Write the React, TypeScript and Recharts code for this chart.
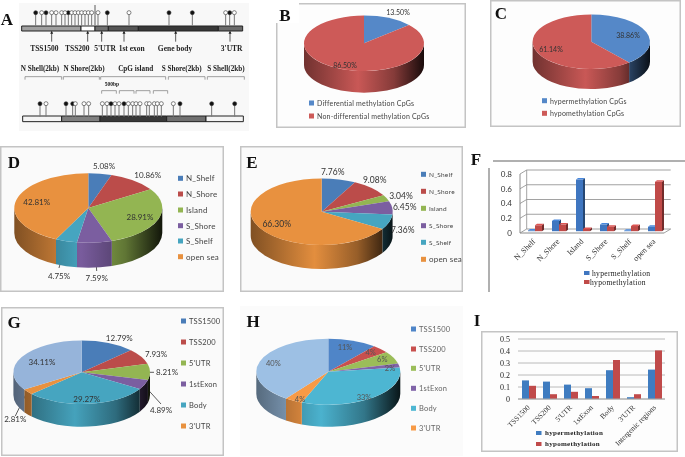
import {
  PieChart, Pie, BarChart, Bar, XAxis, YAxis, CartesianGrid,
  ScatterChart, Scatter, ReferenceArea, ReferenceLine,
} from "recharts";

// panel A: lollipop tracks, all positions in 1/3 px units along the window
const geneFilled = [107, 138, 205, 322, 507, 577, 689];
const geneOpen = [125, 155, 168, 185, 195, 215, 225, 235, 245, 255, 265, 275, 294, 387, 677, 703];
const islandFilled = [120, 198, 218, 333, 372, 540, 635, 704];
const islandOpen = [138, 226, 252, 266, 307, 321, 345, 357, 385, 398, 408, 420, 440, 448, 463, 472, 484, 520];
const geneRegions = ["TSS1500", "TSS200", "5'UTR", "1st exon", "Gene body", "3'UTR"];
const islandRegions = ["N Shell(2kb)", "N Shore(2kb)", "CpG island", "S Shore(2kb)", "S Shell(2kb)"];

const bNames = ["Differential methylation CpGs", "Non-differential methylation CpGs"];
const bValues = [13.5, 86.5];
const cNames = ["hypermethylation CpGs", "hypomethylation CpGs"];
const cValues = [38.86, 61.14];
const cpgNames = ["N_Shelf", "N_Shore", "Island", "S_Shore", "S_Shelf", "open sea"];
const dValues = [5.08, 10.86, 28.91, 7.59, 4.75, 42.81];
const eValues = [7.76, 9.08, 3.04, 6.45, 7.36, 66.3];
const geneNames = ["TSS1500", "TSS200", "5'UTR", "1stExon", "Body", "3'UTR", "Intergenic"];
const gValues = [12.79, 7.93, 8.21, 4.89, 29.27, 2.81, 34.11];
const hValues = [11, 4, 6, 2, 33, 4, 40];

const fCategories = ["N_Shelf", "N_Shore", "Island", "S_Shore", "S_Shelf", "open sea"];
const fHyper = [0.01, 0.14, 0.7, 0.09, 0.005, 0.06];
const fHypo = [0.08, 0.09, 0.03, 0.06, 0.07, 0.67];
const iCategories = ["TSS1500", "TSS200", "5'UTR", "1stExon", "Body", "3'UTR", "Intergenic regions"];
const iHyper = [0.155, 0.145, 0.12, 0.09, 0.24, 0.015, 0.245];
const iHypo = [0.11, 0.04, 0.06, 0.025, 0.325, 0.04, 0.405];

const twoColors = ["#5588c8", "#cd5a58"];
const officeColors = ["#4a7db8", "#bb4c4a", "#93b552", "#7b5ea0", "#46a5c0", "#e8913f", "#96b4da"];
const brightColors = ["#4f85c8", "#c8504e", "#9bbd59", "#8064a8", "#4db6d2", "#f79a46", "#9dc0e4"];

const SERIF = "'Liberation Serif', serif";
const SANS = "Lato, sans-serif";

function shade(hex: string, k: number) {
  const n = parseInt(hex.slice(1), 16);
  const c = (v: number) => Math.min(255, Math.round(v * k));
  return `rgb(${c(n >> 16)},${c((n >> 8) & 255)},${c(n & 255)})`;
}

function arcPoint(cx: number, cy: number, rx: number, ry: number, deg: number) {
  const a = (deg * Math.PI) / 180;
  return [cx + rx * Math.cos(a), cy - ry * Math.sin(a)];
}

function topShape(k: number) {
  return (p: any) => {
    const rx = p.outerRadius;
    const ry = rx * k;
    const [x1, y1] = arcPoint(p.cx, p.cy, rx, ry, p.startAngle);
    const [x2, y2] = arcPoint(p.cx, p.cy, rx, ry, p.endAngle);
    const large = p.startAngle - p.endAngle > 180 ? 1 : 0;
    return <path d={`M${p.cx},${p.cy}L${x1},${y1}A${rx},${ry} 0 ${large} 1 ${x2},${y2}Z`} fill={p.fill} />;
  };
}

function wallShape(k: number, depth: number, id: string) {
  return (p: any) => {
    const hi = Math.min(p.startAngle, 0);
    const lo = Math.max(p.endAngle, -180);
    if (hi <= lo) return <g />;
    const rx = p.outerRadius;
    const ry = rx * k;
    const [x1, y1] = arcPoint(p.cx, p.cy, rx, ry, hi);
    const [x2, y2] = arcPoint(p.cx, p.cy, rx, ry, lo);
    const d = `M${x1},${y1}A${rx},${ry} 0 0 1 ${x2},${y2}L${x2},${y2 + depth}A${rx},${ry} 0 0 0 ${x1},${y1 + depth}Z`;
    return <path d={d} fill={`url(#${id}${p.fill.slice(1)})`} />;
  };
}

type PieProps = {
  id: string;
  box: number[];
  names: string[];
  values: number[];
  colors: string[];
  center: number[];
  rx: number;
  ry: number;
  depth: number;
  spots: number[][];
  leaders?: number[][];
  legendX: number;
  legendY: number[];
  legendSizes?: number[];
  legendSize?: number;
  labelSize?: number;
  labelColor?: string;
  legendColor?: string;
  plain?: boolean;
};

function Pie3D(o: PieProps) {
  const [bx, by, w, h] = o.box;
  const data = o.values.map((value, i) => ({ name: o.names[i], value, fill: o.colors[i] }));
  const k = o.ry / o.rx;
  const cx = o.center[0] - bx;
  const cy = o.center[1] - by;
  const common = { data, dataKey: "value", cx, cy, outerRadius: o.rx, startAngle: 90, endAngle: -270, stroke: "none", isAnimationActive: false };
  const renderLabel = (p: any) => {
    const s = o.spots[p.index];
    const text = o.plain ? `${o.values[p.index]}%` : `${o.values[p.index].toFixed(2)}%`;
    return (
      <text x={s[0] - bx} y={s[1] - by} textAnchor="middle" dominantBaseline="central" fontFamily={SANS} fontSize={o.labelSize ?? 8} fill={o.labelColor ?? "#333"}>
        {text}
      </text>
    );
  };
  return (
    <div style={{ position: "absolute", left: bx, top: by }}>
      <PieChart width={w} height={h} margin={{ top: 0, right: 0, bottom: 0, left: 0 }}>
        <defs>
          {o.colors.map((c) => (
            <linearGradient key={c} id={`${o.id}${c.slice(1)}`} gradientUnits="userSpaceOnUse" x1={cx - o.rx} x2={cx + o.rx} y1={0} y2={0}>
              <stop offset="0" stopColor={shade(c, 0.55)} />
              <stop offset="0.45" stopColor={shade(c, 0.98)} />
              <stop offset="0.75" stopColor={shade(c, 0.65)} />
              <stop offset="1" stopColor={shade(c, 0.12)} />
            </linearGradient>
          ))}
        </defs>
        <Pie {...common} shape={wallShape(k, o.depth, o.id)} label={false} labelLine={false} />
        <Pie {...common} shape={topShape(k)} label={renderLabel} labelLine={false} />
        {(o.leaders ?? []).map((l, i) => (
          <line key={i} x1={l[0] - bx} y1={l[1] - by} x2={l[2] - bx} y2={l[3] - by} stroke="#333" strokeWidth={0.8} />
        ))}
        {o.legendY.map((y, i) => (
          <g key={i}>
            <rect x={o.legendX - bx} y={y - by - 2.5} width={5} height={5} fill={o.colors[i]} />
            <text x={o.legendX + 8 - bx} y={y - by} dominantBaseline="central" fontFamily={SANS} fontSize={o.legendSizes?.[i] ?? o.legendSize ?? 8} fill={o.legendColor ?? "#444"} letterSpacing={0.2}>
              {o.names[i]}
            </text>
          </g>
        ))}
      </PieChart>
    </div>
  );
}

function frame(left: number, top: number, width: number, height: number, bg = "#fafafa", line = "#c4c4c4") {
  return <div style={{ position: "absolute", left, top, width, height, background: bg, boxShadow: `inset 0 0 0 1.5px ${line}` }} />;
}

function letter(ch: string, x: number, y: number) {
  return (
    <div style={{ position: "absolute", left: x, top: y, transform: "translate(-50%,-50%)", fontFamily: SERIF, fontWeight: 700, fontSize: 17, lineHeight: 1, color: "#111" }}>
      {ch}
    </div>
  );
}

function lollipop(filled: boolean) {
  return (p: any) => (
    <g>
      <line x1={p.cx} x2={p.cx} y1={p.cy} y2={p.cy + 13} stroke="#777" strokeWidth={1} />
      <circle cx={p.cx} cy={p.cy} r={2} fill={filled ? "#111" : "#fff"} stroke="#333" strokeWidth={0.6} />
    </g>
  );
}

function upArrow(p: any) {
  return <path d={`M${p.cx - 1.5},${p.cy + 2}L${p.cx},${p.cy - 1}L${p.cx + 1.5},${p.cy + 2}Z`} fill="#222" />;
}

function PanelA() {
  const head = (xs: number[], y: number) => xs.map((x) => ({ x, y }));
  const geneBands = [[65, 243, "#a0a0a0"], [243, 285, "#ffffff"], [285, 325, "#707070"], [325, 415, "#555555"], [415, 655, "#383838"], [655, 728, "#6a6a6a"]];
  const islandBands = [[68, 185, "#f4f4f4"], [185, 300, "#808080"], [300, 500, "#383838"], [500, 618, "#707070"], [618, 730, "#f4f4f4"]];
  const arrowX = [155, 263, 305, 372, 527, 690];
  const brackets = [[75, 185], [190, 298], [302, 497], [505, 615], [622, 733]];
  const smallBrackets = [[305, 349], [358, 402], [408, 450], [460, 503]];
  const geneLabelX = [133, 232, 315, 395, 525, 695];
  const islandLabelX = [120, 252, 407, 545, 678];
  const label = { fontFamily: SERIF, fontWeight: 700, fill: "#222", textAnchor: "middle" as const };
  const bracket = (a: number, b: number, y: number, key: string) => [
    <ReferenceLine key={`${key}t`} segment={[{ x: a, y }, { x: b, y }]} stroke="#888" strokeWidth={0.8} />,
    <ReferenceLine key={`${key}l`} segment={[{ x: a, y }, { x: a, y: y + 9 }]} stroke="#888" strokeWidth={0.8} />,
    <ReferenceLine key={`${key}r`} segment={[{ x: b, y }, { x: b, y: y + 9 }]} stroke="#888" strokeWidth={0.8} />,
  ];
  return (
    <div style={{ position: "absolute", left: 0, top: 0 }}>
      <ScatterChart width={260} height={135} margin={{ top: 0, right: 0, bottom: 0, left: 0 }}>
        <XAxis type="number" dataKey="x" domain={[0, 780]} hide />
        <YAxis type="number" dataKey="y" domain={[0, 405]} reversed hide />
        {geneBands.map((b, i) => (
          <ReferenceArea key={i} x1={b[0] as number} x2={b[1] as number} y1={78} y2={93} fill={b[2] as string} fillOpacity={1} stroke="#222" strokeWidth={1} />
        ))}
        {islandBands.map((b, i) => (
          <ReferenceArea key={i} x1={b[0] as number} x2={b[1] as number} y1={348} y2={365} fill={b[2] as string} fillOpacity={1} stroke="#222" strokeWidth={1} />
        ))}
        {arrowX.map((x) => (
          <ReferenceLine key={x} segment={[{ x, y: 95 }, { x, y: 125 }]} stroke="#333" strokeWidth={0.8} />
        ))}
        <ReferenceLine segment={[{ x: 285, y: 15 }, { x: 285, y: 75 }]} stroke="#333" strokeWidth={0.8} />
        {brackets.map((b, i) => bracket(b[0], b[1], 230, `b${i}`))}
        {smallBrackets.map((b, i) => bracket(b[0], b[1], 272, `s${i}`))}
        <Scatter data={head(geneFilled, 38)} shape={lollipop(true)} isAnimationActive={false} />
        <Scatter data={head(geneOpen, 38)} shape={lollipop(false)} isAnimationActive={false} />
        <Scatter data={head(islandFilled, 311)} shape={lollipop(true)} isAnimationActive={false} />
        <Scatter data={head(islandOpen, 311)} shape={lollipop(false)} isAnimationActive={false} />
        <Scatter data={head(arrowX, 95)} shape={upArrow} isAnimationActive={false} />
        {geneRegions.map((t, i) => (
          <text key={t} x={geneLabelX[i] / 3} y={51} fontSize={7.5} {...label}>{t}</text>
        ))}
        {islandRegions.map((t, i) => (
          <text key={t} x={islandLabelX[i] / 3} y={71} fontSize={7.2} {...label}>{t}</text>
        ))}
        <text x={112} y={86} fontSize={5.5} {...label}>500bp</text>
      </ScatterChart>
    </div>
  );
}

function bar3D(dx: number, dy: number, lift: number) {
  return (p: any) => {
    const x = p.x + lift;
    const y = p.y - lift * 0.6;
    const { width: w, height: h, fill } = p;
    return (
      <g>
        <path d={`M${x + w},${y}l${dx},${-dy}v${h}l${-dx},${dy}Z`} fill={shade(fill, 0.6)} />
        <path d={`M${x},${y}l${dx},${-dy}h${w}l${-dx},${dy}Z`} fill={shade(fill, 1.15)} />
        <rect x={x} y={y} width={w} height={h} fill={fill} />
      </g>
    );
  };
}

function gridLine3D(p: any) {
  return <path key={p.key ?? p.index ?? p.y1} d={`M${p.x1},${p.y1}l6.7,-4H${p.x2 + 6.7}`} fill="none" stroke="#8a8a8a" strokeWidth={0.8} />;
}

// rotated category label, one line whatever its length
function slantTick(size: number, dx: number, dy: number) {
  return (p: any) => {
    const x = p.x + dx;
    const y = p.y + dy;
    return (
      <text x={x} y={y} textAnchor="end" transform={`rotate(-45 ${x} ${y})`} fontFamily={SERIF} fontSize={size} fill="#333">
        {p.payload.value}
      </text>
    );
  };
}

function legendRow(x: number, y: number, textX: number, color: string, text: string, size: number, bold = false) {
  return (
    <g key={text}>
      <rect x={x} y={y - 2} width={5.5} height={4} fill={color} />
      <text x={textX} y={y} dominantBaseline="central" fontFamily={SERIF} fontWeight={bold ? 700 : 400} fontSize={size} letterSpacing={0.3} fill="#222">
        {text}
      </text>
    </g>
  );
}

function PanelF() {
  const data = fCategories.map((name, i) => ({ name, hyper: fHyper[i], hypo: fHypo[i] }));
  return (
    <div style={{ position: "absolute", left: 488, top: 161 }}>
      <BarChart width={197} height={129} data={data} margin={{ top: 13, right: 21, bottom: 0, left: 12 }} barGap={0} barCategoryGap={5}>
        <CartesianGrid horizontal={gridLine3D} vertical={false} />
        <path d="M176,72l6.7,-4M38.7,9V68" fill="none" stroke="#8a8a8a" strokeWidth={0.8} />
        <XAxis dataKey="name" height={57} interval={0} tickLine={false} axisLine={{ stroke: "#8a8a8a" }} tick={slantTick(8, 4, 1)} />
        <YAxis width={20} interval={0} domain={[0, 0.8]} ticks={[0, 0.2, 0.4, 0.6, 0.8]} tickLine={false} axisLine={{ stroke: "#8a8a8a" }} tick={{ fontFamily: SANS, fontSize: 8, fill: "#333" }} />
        <Bar dataKey="hyper" fill="#3f76c0" shape={bar3D(2, 1.5, 3)} isAnimationActive={false} />
        <Bar dataKey="hypo" fill="#c04a48" shape={bar3D(2, 1.5, 3)} isAnimationActive={false} />
        {legendRow(96, 112, 104, "#3f76c0", "hypermethylation", 7.6)}
        {legendRow(96, 121, 102, "#c04a48", "hypomethylation", 7.6)}
      </BarChart>
    </div>
  );
}

function PanelI() {
  const data = iCategories.map((name, i) => ({ name, hyper: iHyper[i], hypo: iHypo[i] }));
  return (
    <div style={{ position: "absolute", left: 481, top: 331 }}>
      <BarChart width={197} height={121} data={data} margin={{ top: 8, right: 13, bottom: 0, left: 15 }} barGap={0} barCategoryGap={4}>
        <CartesianGrid vertical={false} stroke="#a8a8a8" strokeWidth={0.8} />
        <XAxis dataKey="name" height={53} interval={0} tickLine={false} axisLine={{ stroke: "#a8a8a8" }} tick={slantTick(7.5, 2, 1)} />
        <YAxis width={22} interval={0} domain={[0, 0.5]} ticks={[0, 0.1, 0.2, 0.3, 0.4, 0.5]} tickLine={false} axisLine={false} tick={{ fontFamily: SERIF, fontSize: 8, fill: "#222" }} />
        <Bar dataKey="hyper" fill="#3f7cc0" isAnimationActive={false} />
        <Bar dataKey="hypo" fill="#c04a4a" isAnimationActive={false} />
        {legendRow(55, 102, 64, "#3f7cc0", "hypermethylation", 7, true)}
        {legendRow(55, 113, 64, "#c04a4a", "hypomethylation", 7, true)}
      </BarChart>
    </div>
  );
}

export default function App() {
  return (
    <div style={{ position: "absolute", left: 0, top: 0, width: 685, height: 457, overflow: "hidden", background: "#fff", filter: "blur(0.35px)" }}>
      {frame(19, 3, 230, 128, "#f8f8f8", "#f8f8f8")}
      {frame(276, 3, 190, 125, "#fdfdfd")}
      <div style={{ position: "absolute", left: 274, top: 0, width: 25, height: 23, background: "#fff" }} />
      {frame(490, 0, 191, 127, "#fdfdfd")}
      {frame(0, 146, 224, 146)}
      {frame(240, 146, 223, 146)}
      {frame(1, 307, 223, 149)}
      {frame(240, 306, 223, 150, "#fbfbfb", "#fbfbfb")}
      <div style={{ position: "absolute", left: 493, top: 160, width: 192, height: 1.5, background: "#b0b0b0" }} />
      <div style={{ position: "absolute", left: 488, top: 168, width: 1.5, height: 124, background: "#b0b0b0" }} />
      {frame(481, 331, 197, 121, "#fdfdfd")}

      <PanelA />
      <Pie3D id="b" box={[276, 3, 190, 125]} names={bNames} values={bValues} colors={twoColors} center={[364, 43.3]} rx={60} ry={27.7} depth={21.7}
        spots={[[398, 12], [345, 65]]} legendX={309} legendY={[103, 116]} legendSize={7} labelSize={7} />
      <Pie3D id="c" box={[490, 0, 191, 127]} names={cNames} values={cValues} colors={twoColors} center={[591.3, 41.7]} rx={58.7} ry={27.3} depth={20}
        spots={[[628, 35], [551, 49]]} legendX={542} legendY={[100.7, 113.3]} legendSize={7} labelSize={7} />
      <Pie3D id="d" box={[0, 146, 224, 146]} names={cpgNames} values={dValues} colors={officeColors} center={[88.3, 208]} rx={74} ry={34.7} depth={25}
        spots={[[104, 166], [147.7, 175], [140, 217], [96.7, 278], [59, 276], [36.7, 202]]} leaders={[[95, 246, 96.7, 271], [65, 245, 59, 268]]}
        legendX={178} legendY={[178.3, 194, 210, 225.7, 241, 256.7]} />
      <Pie3D id="e" box={[240, 146, 223, 146]} names={cpgNames} values={eValues} colors={officeColors} center={[321.7, 211.7]} rx={71} ry={33.3} depth={24}
        spots={[[332.7, 172], [374.7, 179.7], [401, 195.7], [404.7, 207], [402.7, 230], [276.7, 224]]}
        legendX={421} legendY={[174.3, 191.3, 208.3, 225.7, 242.3, 259.3]} legendSizes={[6.5, 6.5, 6.5, 6.5, 6.5, 8]} labelSize={8.5} />
      <Pie3D id="g" box={[1, 307, 223, 149]} names={geneNames} values={gValues} colors={officeColors} center={[81.7, 372.3]} rx={68.3} ry={31.7} depth={22.7}
        spots={[[119.3, 337.7], [156, 354], [167, 372.3], [161, 410.3], [86.7, 399], [15.3, 419.3], [42, 362.3]]}
        leaders={[[148.3, 390, 161, 404], [26.7, 392.7, 15.3, 416], [150, 372.3, 154, 372.3]]}
        legendX={181} legendY={[321, 342, 363, 384, 405, 426]} legendSize={7.5} />
      <Pie3D id="h" box={[240, 306, 223, 150]} names={geneNames} values={hValues} colors={brightColors} center={[328.3, 371.7]} rx={72} ry={33} depth={22}
        spots={[[345, 347], [370.7, 352.7], [382.3, 359], [390, 368], [364, 397], [300, 399.3], [273.3, 363.3]]} plain labelColor="#555" labelSize={7.5}
        legendX={411} legendY={[329, 349, 368.3, 388.3, 408.3, 428]} legendColor="#666" legendSize={7.5} />
      <PanelF />
      <PanelI />

      {letter("A", 7, 19)}
      {letter("B", 285, 15)}
      {letter("C", 501, 13)}
      {letter("D", 14, 162)}
      {letter("E", 252, 162)}
      {letter("F", 476, 159)}
      {letter("G", 14, 322)}
      {letter("H", 253, 321)}
      {letter("I", 477, 320)}
    </div>
  );
}
